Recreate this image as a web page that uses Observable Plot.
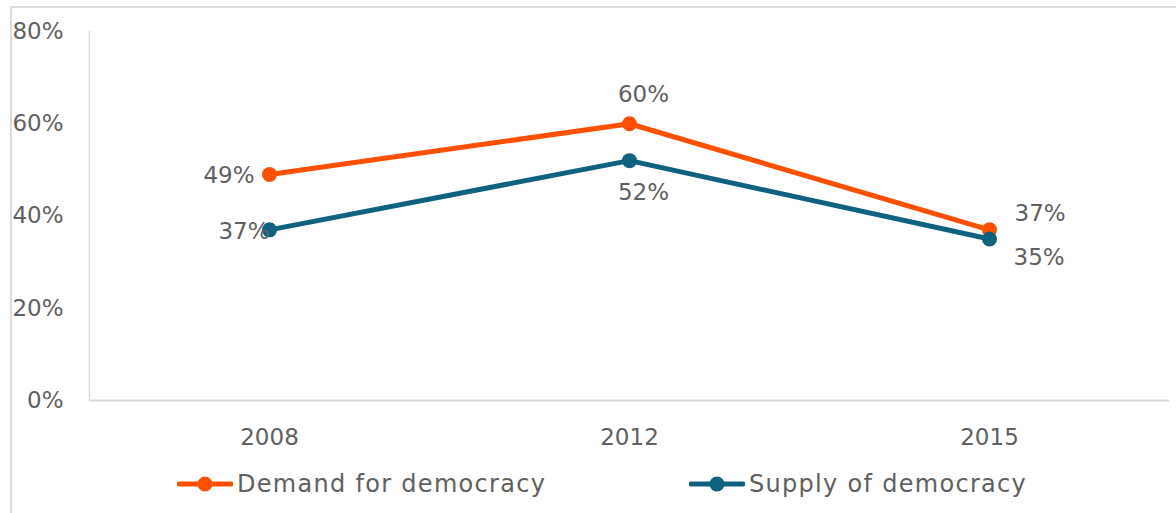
<!DOCTYPE html>
<html>
<head>
<meta charset="utf-8">
<script src="https://cdn.jsdelivr.net/npm/d3@7"></script>
<script src="https://cdn.jsdelivr.net/npm/@observablehq/plot@0.6"></script>
<style>
  html, body { margin: 0; padding: 0; background: #fff; }
  body { width: 1176px; height: 513px; position: relative; overflow: hidden; font-family: "DejaVu Sans", sans-serif; }
  #border { position: absolute; left: 10px; top: 6px; right: -10px; bottom: -10px; border-left: 2px solid #dcdcdc; border-top: 2px solid #dcdcdc; }
  #chart { position: absolute; left: 0; top: 0; }
  .leg { position: absolute; top: 470px; display: flex; align-items: center; font-size: 24px; letter-spacing: 1.3px; color: #606060; white-space: nowrap; }
  .leg svg { margin-right: 4px; }
</style>
</head>
<body>
<div id="border"></div>
<div id="chart"></div>
<div class="leg" id="leg1"></div>
<div class="leg" id="leg2"></div>
<script>
const years = ["2008", "2012", "2015"];
const demand = [0.49, 0.60, 0.37];
const supply = [0.37, 0.52, 0.35];
const yTicks = [0, 0.2, 0.4, 0.6, 0.8];
const seriesNames = ["Demand for democracy", "Supply of democracy"];
const seriesColors = ["#ff5000", "#0f6180"];

const rows = [];
years.forEach((yr, i) => {
  rows.push({year: yr, value: demand[i], series: seriesNames[0]});
  rows.push({year: yr, value: supply[i], series: seriesNames[1]});
});
const dem = rows.filter(d => d.series === seriesNames[0]);
const sup = rows.filter(d => d.series === seriesNames[1]);
const fmt = d3.format(".0%");
const labelFont = {fontSize: 23, fill: "#606060", text: d => fmt(d.value)};

const plot = Plot.plot({
  width: 1176,
  height: 460,
  marginLeft: 89,
  marginRight: 7,
  marginTop: 31,
  marginBottom: 60,
  style: {fontFamily: "DejaVu Sans, sans-serif", background: "transparent"},
  x: {type: "band", domain: years, padding: 0, label: null},
  y: {domain: [0, 0.8], label: null},
  color: {domain: seriesNames, range: seriesColors},
  marks: [
    Plot.frame({anchor: "left", stroke: "#d9d9d9", strokeWidth: 1.5}),
    Plot.ruleY([0], {stroke: "#d9d9d9", strokeWidth: 2}),
    Plot.axisY({ticks: yTicks, tickFormat: d3.format(".0%"), tickSize: 0, tickPadding: 26, fontSize: 23, fill: "#606060", label: null}),
    Plot.axisX({tickSize: 0, tickPadding: 28, fontSize: 23, fill: "#606060", label: null}),
    Plot.line(rows, {x: "year", y: "value", z: "series", stroke: "series", strokeWidth: 5}),
    Plot.dot(rows, {x: "year", y: "value", fill: "series", r: 7.5}),
    Plot.text(dem.filter(d => d.year === years[0]), {x: "year", y: "value", ...labelFont, textAnchor: "end", dx: -15, dy: 1}),
    Plot.text(dem.filter(d => d.year === years[1]), {x: "year", y: "value", ...labelFont, dx: 14, dy: -29}),
    Plot.text(dem.filter(d => d.year === years[2]), {x: "year", y: "value", ...labelFont, textAnchor: "start", dx: 25, dy: -16}),
    Plot.text(sup.filter(d => d.year === years[0]), {x: "year", y: "value", ...labelFont, textAnchor: "end", dx: 0, dy: 2}),
    Plot.text(sup.filter(d => d.year === years[1]), {x: "year", y: "value", ...labelFont, dx: 14, dy: 32}),
    Plot.text(sup.filter(d => d.year === years[2]), {x: "year", y: "value", ...labelFont, textAnchor: "start", dx: 24, dy: 19})
  ]
});
document.getElementById("chart").appendChild(plot);

function legendItem(el, name, color, left) {
  el.style.left = left + "px";
  el.innerHTML = `<svg width="56" height="20"><line x1="2" y1="10" x2="54" y2="10" stroke="${color}" stroke-width="5" stroke-linecap="round"/><circle cx="28" cy="10" r="7.5" fill="${color}"/></svg><span>${name}</span>`;
}
legendItem(document.getElementById("leg1"), seriesNames[0], seriesColors[0], 177);
legendItem(document.getElementById("leg2"), seriesNames[1], seriesColors[1], 689);
</script>
</body>
</html>
